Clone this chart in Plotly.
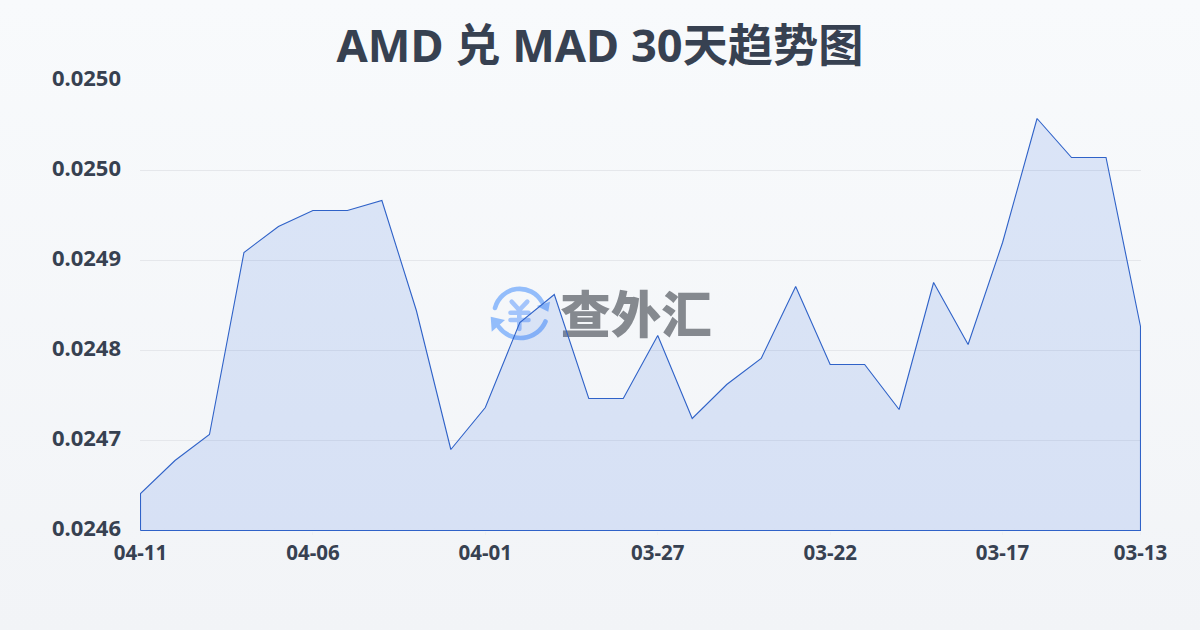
import base64
import plotly.graph_objects as go

title_text = "AMD 兑 MAD 30天趋势图"
watermark_text = "查外汇"
dates = ["04-11", "04-10", "04-09", "04-08", "04-07", "04-06", "04-05", "04-04", "04-03", "04-02",
         "04-01", "03-31", "03-30", "03-29", "03-28", "03-27", "03-26", "03-25", "03-24", "03-23",
         "03-22", "03-21", "03-20", "03-19", "03-18", "03-17", "03-16", "03-15", "03-14", "03-13"]
rates = [0.024637, 0.024670, 0.024696, 0.024878, 0.024904, 0.024920, 0.024920, 0.024930, 0.024820, 0.024681,
         0.024723, 0.024808, 0.024836, 0.024732, 0.024732, 0.024795, 0.024712, 0.024746, 0.024772, 0.024844,
         0.024766, 0.024766, 0.024721, 0.024848, 0.024786, 0.024888, 0.025012, 0.024973, 0.024973, 0.024804]
base_rate = 0.0246
x_ticks = ["04-11", "04-06", "04-01", "03-27", "03-22", "03-17", "03-13"]
y_ticks = [0.0246, 0.02469, 0.02478, 0.02487, 0.02496, 0.02505]
y_labels = ["0.0246", "0.0247", "0.0248", "0.0249", "0.0250", "0.0250"]

INK = "#374151"
LINE = "#2f62c8"
HALF_PX_X = 0.5 / (1000 / 29)
HALF_PX_Y = 0.5e-6
LEFT, TOP, PLOT_W, PLOT_H = 140, 80, 1001, 451


def px(x):
    return (x - LEFT) / PLOT_W


def py(y):
    return 1 - (y - TOP) / PLOT_H


def svg_uri(svg):
    return "data:image/svg+xml;base64," + base64.b64encode(svg.encode()).decode()


background = svg_uri(
    '<svg xmlns="http://www.w3.org/2000/svg" width="1200" height="630" preserveAspectRatio="none">'
    '<defs><linearGradient id="g" x1="0" y1="0" x2="0" y2="1">'
    '<stop offset="0" stop-color="#f8fafc"/><stop offset="1" stop-color="#f2f4f7"/>'
    '</linearGradient></defs><rect width="1200" height="630" fill="url(#g)"/></svg>'
)
coin = svg_uri(
    '<svg xmlns="http://www.w3.org/2000/svg" width="80" height="80" viewBox="0 0 80 80">'
    '<g fill="none" stroke="#93bdfb" stroke-width="4.6" stroke-linecap="round">'
    '<path d="M15 33 A25.5 25.5 0 0 1 62 27"/>'
    '<path d="M65.5 46.5 A27 27 0 0 1 18.5 51.5"/></g>'
    '<path d="M70 26.7 L56.7 31 L68.3 36.7 Z M10.7 41.7 L25 45 L11.7 56.7 Z" fill="#93bdfb"/>'
    '<g fill="none" stroke="#a3c4fb" stroke-width="4.6" stroke-linecap="round" stroke-linejoin="round">'
    '<path d="M31.7 26.7 L39.3 35 L47.3 26.7 M30.5 37.7 H48.5 M30.5 45 H48.5 M39.3 35 V54"/></g></svg>'
)

fig = go.Figure(
    go.Scatter(
        x=[dates[0]] + dates + [dates[-1], dates[0]],
        y=[base_rate] + rates + [base_rate, base_rate],
        mode="lines",
        fill="toself",
        fillcolor="rgba(37,99,225,0.135)",
        line=dict(color=LINE, width=1.1),
        cliponaxis=False,
        hoverinfo="skip",
    )
)

fig.update_layout(
    width=1200,
    height=630,
    autosize=False,
    margin=dict(l=140, r=59, t=80, b=99),
    paper_bgcolor="rgba(0,0,0,0)",
    plot_bgcolor="rgba(0,0,0,0)",
    showlegend=False,
    font=dict(family="Noto Sans, Noto Sans CJK SC, sans-serif", color=INK),
    title=dict(
        text=title_text,
        x=0.5,
        xanchor="center",
        y=1 - 46 / 630,
        yanchor="middle",
        font=dict(size=45.2, weight=700, color=INK, family="Noto Sans, Noto Sans CJK SC, sans-serif"),
    ),
    xaxis=dict(
        type="category",
        categoryorder="array",
        categoryarray=dates,
        range=[-HALF_PX_X, len(dates) - 1 + HALF_PX_X],
        tickmode="array",
        tickvals=x_ticks,
        ticktext=x_ticks,
        showgrid=False,
        zeroline=False,
        showline=False,
        ticks="outside",
        ticklen=3,
        tickcolor="#eef0f3",
        tickfont=dict(size=20.5, weight=700, color=INK),
        tickangle=0,
    ),
    yaxis=dict(
        range=[y_ticks[0] - HALF_PX_Y, y_ticks[-1] + HALF_PX_Y],
        tickmode="array",
        tickvals=y_ticks,
        ticktext=y_labels,
        showgrid=True,
        gridcolor="#e5e7eb",
        gridwidth=1,
        zeroline=False,
        showline=False,
        ticks="",
        ticklabelstandoff=18,
        ticklabelshift=-2,
        tickfont=dict(size=22, weight=700, color=INK),
    ),
    images=[
        dict(source=background, xref="paper", yref="paper", x=px(0), y=py(0),
             sizex=1200 / PLOT_W, sizey=630 / PLOT_H, xanchor="left", yanchor="top", sizing="stretch", layer="below"),
        dict(source=coin, xref="paper", yref="paper", x=px(480), y=py(275),
             sizex=80 / PLOT_W, sizey=80 / PLOT_H, xanchor="left", yanchor="top", sizing="stretch", layer="below"),
    ],
    shapes=[
        dict(
            type="rect", xref="paper", yref="paper", layer="below",
            x0=px(560), x1=px(712), y0=py(346), y1=py(292),
            line=dict(width=0), fillcolor="rgba(0,0,0,0)",
            label=dict(
                text=watermark_text,
                textposition="middle center",
                font=dict(size=50.5, color="#85898f", family="Noto Sans CJK SC", weight=900),
            ),
        )
    ],
)

fig.write_html("out.html", config={"displayModeBar": False}, post_script="document.body.style.margin='0';")
